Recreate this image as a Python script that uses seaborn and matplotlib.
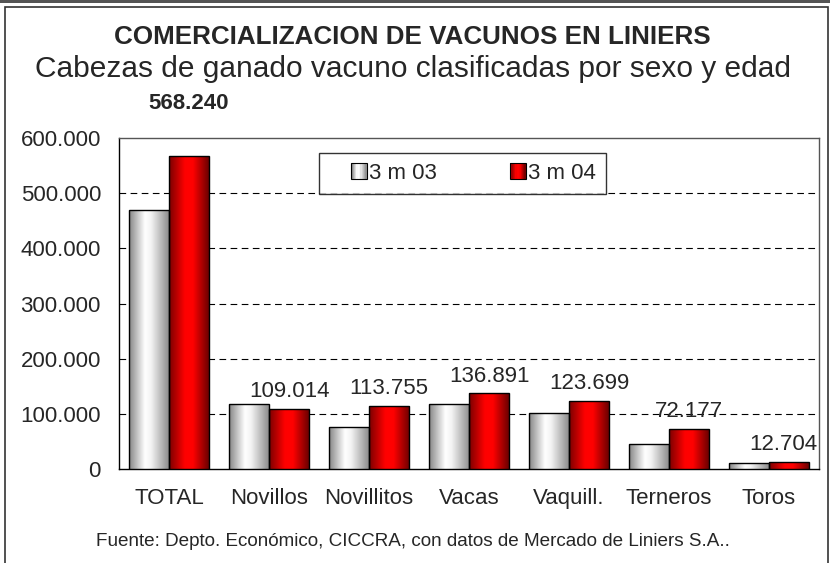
import matplotlib
matplotlib.use('Agg')
import matplotlib.pyplot as plt
import numpy as np
import pandas as pd
import seaborn as sns
from matplotlib.colors import LinearSegmentedColormap
from matplotlib.legend_handler import HandlerBase
from matplotlib.patches import Rectangle
from matplotlib.ticker import FuncFormatter

categories = ['TOTAL', 'Novillos', 'Novillitos', 'Vacas', 'Vaquill.', 'Terneros', 'Toros']
series_names = ['3 m 03', '3 m 04']
values_03 = [470000, 118700, 76300, 117000, 102400, 46200, 11500]
values_04 = [568240, 109014, 113755, 136891, 123699, 72177, 12704]

cmap_white = LinearSegmentedColormap.from_list(
    'white_bar', [(0, '#858585'), (0.4, '#ffffff'), (0.55, '#f4f4f4'), (1, '#8c8c8c')])
cmap_red = LinearSegmentedColormap.from_list(
    'red_bar', [(0, '#7a0000'), (0.4, '#ff0000'), (0.6, '#ff0000'), (1, '#6a0000')])
cmaps = {'3 m 03': cmap_white, '3 m 04': cmap_red}


def fmt_es(v, pos=None):
    return f'{int(round(v)):,}'.replace(',', '.')


class GradientHandler(HandlerBase):
    # small gradient square, pushed to the right end of the handle box
    def __init__(self, cmap):
        super().__init__()
        self.cmap = cmap

    def create_artists(self, legend, orig_handle, xdescent, ydescent, width, height, fontsize, trans):
        side = height * 1.0
        x0, y0 = -xdescent + width - side, -ydescent + (height - side) / 2
        n = 12
        arts = []
        for i in range(n):
            arts.append(Rectangle((x0 + side * i / n, y0), side / n, side,
                                  facecolor=self.cmap((i + 0.5) / n), edgecolor='none', transform=trans))
        arts.append(Rectangle((x0, y0), side, side, facecolor='none', edgecolor='black', lw=0.8, transform=trans))
        return arts


df = pd.DataFrame({
    'categoria': categories * 2,
    'periodo': [series_names[0]] * len(categories) + [series_names[1]] * len(categories),
    'cabezas': values_03 + values_04,
})

sns.set_style('white')
plt.rcParams['font.family'] = ['Liberation Sans', 'DejaVu Sans']

fig = plt.figure(figsize=(8.3, 5.63), dpi=100)
ax = fig.add_axes([119 / 830, 94 / 563, 700 / 830, 331 / 563])

sns.barplot(data=df, x='categoria', y='cabezas', hue='periodo', palette=['#dddddd', '#ff0000'],
            width=0.8, edgecolor='black', linewidth=1, ax=ax, legend=False, zorder=3)

for container, name in zip(ax.containers, series_names):
    for bar in container:
        x, y = bar.get_x(), bar.get_y()
        w, h = bar.get_width(), bar.get_height()
        grad = np.linspace(0, 1, 256).reshape(1, -1)
        im = ax.imshow(grad, cmap=cmaps[name], aspect='auto', extent=[x, x + w, y, y + h],
                       zorder=3.5, interpolation='bicubic')
        im.set_clip_path(bar)
        bar.set_facecolor('none')
        bar.set_zorder(4)

# value labels over the 3 m 04 bars
red_bars = ax.containers[1]
for i, (bar, v) in enumerate(zip(red_bars, values_04)):
    cx = bar.get_x() + bar.get_width() / 2
    if i == 0:
        ax.annotate(fmt_es(v), (cx, v), xytext=(0, 30), textcoords='offset points',
                    ha='center', va='bottom', fontsize=16, fontweight='bold', annotation_clip=False)
    else:
        shift = -0.06 if i == len(categories) - 1 else 0
        ax.annotate(fmt_es(v), (cx + shift, v), xytext=(0, 5), textcoords='offset points',
                    ha='center', va='bottom', fontsize=16, annotation_clip=False)

ax.set_xlim(-0.5, len(categories) - 0.5)
ax.set_ylim(0, 600000)
ax.set_yticks(np.arange(0, 600001, 100000))
ax.yaxis.set_major_formatter(FuncFormatter(fmt_es))
ax.set_xticks(np.arange(-0.5, len(categories), 1), minor=False)
ax.set_xticklabels([])
ax.set_xticks(np.arange(len(categories)), minor=True)
ax.set_xticklabels(categories, minor=True)
ax.tick_params(axis='x', which='major', direction='out', length=5, width=1, color='black')
ax.tick_params(axis='x', which='minor', length=0, labelsize=16, pad=14)
ax.tick_params(axis='y', direction='out', length=5, width=1, color='black', labelsize=16, pad=8)
ax.set_xlabel('')
ax.set_ylabel('')

for yv in range(100000, 600000, 100000):
    ax.axhline(yv, color='black', lw=0.8, ls=(0, (6, 4)), zorder=1)

for side in ['left', 'bottom']:
    ax.spines[side].set_color('black')
    ax.spines[side].set_linewidth(1)
for side in ['top', 'right']:
    ax.spines[side].set_color('#555555')
    ax.spines[side].set_linewidth(1)
    ax.spines[side].set_visible(True)

handles = [Rectangle((0, 0), 1, 1), Rectangle((0, 0), 1, 1)]
leg = ax.legend(handles, series_names, ncol=2, loc='upper left', bbox_to_anchor=(0.2857, 0.955),
                fontsize=16, frameon=True, fancybox=False, columnspacing=2.3, handlelength=1.7,
                handletextpad=0.1, borderpad=0.45, borderaxespad=0,
                handler_map={handles[0]: GradientHandler(cmap_white), handles[1]: GradientHandler(cmap_red)})
leg.get_frame().set_edgecolor('black')
leg.get_frame().set_linewidth(1)
leg.set_zorder(6)

fig.text(0.497, 1 - 37 / 563, 'COMERCIALIZACION DE VACUNOS EN LINIERS', ha='center', va='center',
         fontsize=18.7, fontweight='bold')
fig.text(0.497, 1 - 69 / 563, 'Cabezas de ganado vacuno clasificadas por sexo y edad', ha='center',
         va='center', fontsize=21.5)
fig.text(0.497, 1 - 541 / 563, 'Fuente: Depto. Económico, CICCRA, con datos de Mercado de Liniers S.A..',
         ha='center', va='center', fontsize=13.6)

fig.patches.append(Rectangle((5 / 830, -0.01), 823 / 830, 1 - 7 / 563 + 0.01, transform=fig.transFigure,
                             facecolor='none', edgecolor='#333333', lw=1.2))
fig.patches.append(Rectangle((0, 1 - 3 / 563), 1, 3 / 563, transform=fig.transFigure,
                             facecolor='#555555', edgecolor='none'))

fig.savefig('out.png', dpi=100)
